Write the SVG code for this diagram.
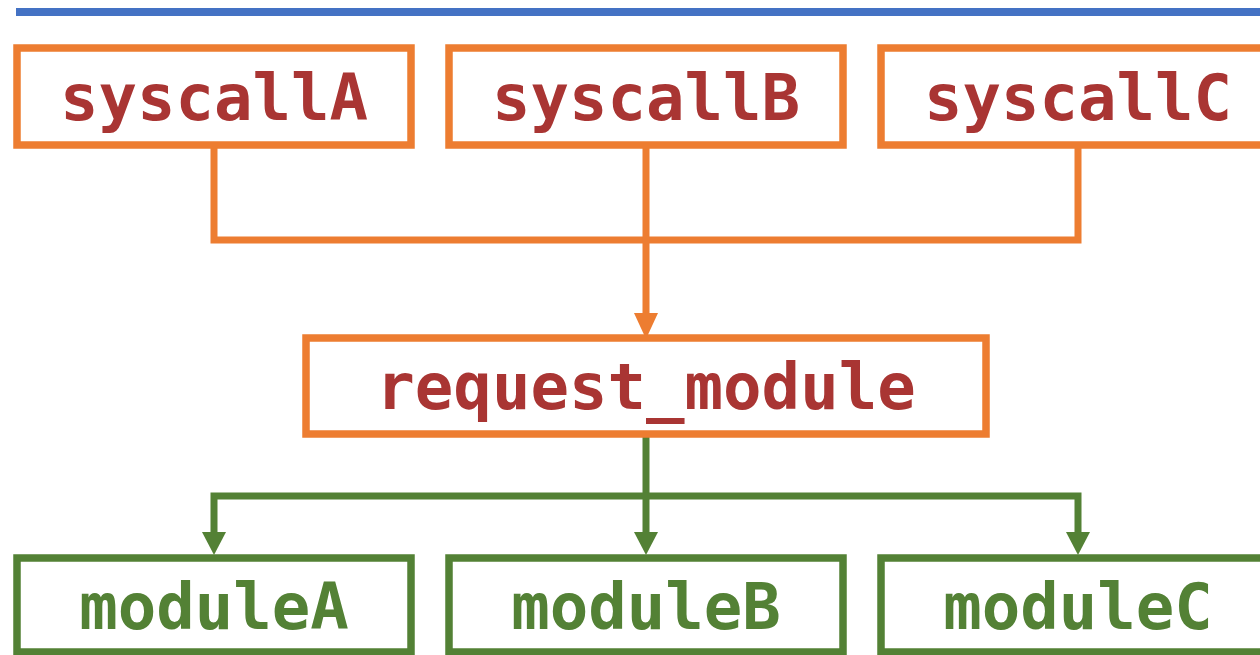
<svg xmlns="http://www.w3.org/2000/svg" width="1260" height="655" viewBox="0 0 1260 655">
  <defs>
    <style>
      .box { fill: #ffffff; stroke-width: 7.5; }
      .or { stroke: #ED7D31; }
      .gr { stroke: #538135; }
      .lbl { font-family: "DejaVu Sans Mono", "Liberation Mono", monospace; font-weight: bold; font-size: 64px; text-anchor: middle; }
      .red { fill: #A93533; }
      .grn { fill: #538135; }
      .conn { fill: none; stroke-width: 7; }
    </style>
  </defs>

  <rect x="16" y="8" width="1244" height="8" fill="#4472C4"/>

  <g id="connectors">
    <path class="conn or" d="M214,148 V240 H1078 V148"/>
    <line class="conn or" x1="646" y1="148" x2="646" y2="313"/>
    <path d="M634,313 L658,313 L646,339 Z" fill="#ED7D31"/>
    <line class="conn gr" x1="646" y1="437" x2="646" y2="533"/>
    <path class="conn gr" d="M214,533 V496 H1078 V533"/>
    <path d="M202,532 L226,532 L214,555 Z" fill="#538135"/>
    <path d="M634,532 L658,532 L646,555 Z" fill="#538135"/>
    <path d="M1066,532 L1090,532 L1078,555 Z" fill="#538135"/>
  </g>

  <g id="syscallA">
    <rect class="box or" x="17" y="48" width="394" height="97"/>
    <text class="lbl red" x="214" y="120">syscallA</text>
  </g>
  <g id="syscallB">
    <rect class="box or" x="449" y="48" width="394" height="97"/>
    <text class="lbl red" x="646" y="120">syscallB</text>
  </g>
  <g id="syscallC">
    <rect class="box or" x="881" y="48" width="394" height="97"/>
    <text class="lbl red" x="1078" y="120">syscallC</text>
  </g>
  <g id="request_module">
    <rect class="box or" x="306" y="338" width="680" height="96"/>
    <text class="lbl red" x="646" y="409">request_module</text>
  </g>
  <g id="moduleA">
    <rect class="box gr" x="17" y="558" width="394" height="94"/>
    <text class="lbl grn" x="214" y="629">moduleA</text>
  </g>
  <g id="moduleB">
    <rect class="box gr" x="449" y="558" width="394" height="94"/>
    <text class="lbl grn" x="646" y="629">moduleB</text>
  </g>
  <g id="moduleC">
    <rect class="box gr" x="881" y="558" width="394" height="94"/>
    <text class="lbl grn" x="1078" y="629">moduleC</text>
  </g>
</svg>
